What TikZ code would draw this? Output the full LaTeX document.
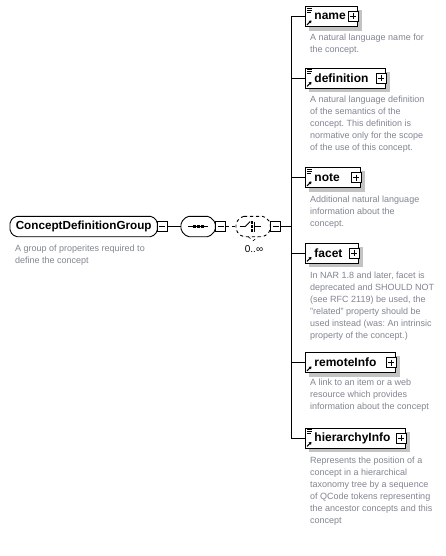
\documentclass[tikz,border=0pt]{standalone}
\usepackage{fontspec}
\setmainfont{Liberation Sans}
\usetikzlibrary{calc,arrows.meta}
\pgfdeclarelayer{paper}
\pgfdeclarelayer{bg}
\pgfsetlayers{paper,bg,main}
\definecolor{desc}{RGB}{128,134,145}
\definecolor{shad}{RGB}{195,195,195}
\frenchspacing
\newcommand{\xsdicons}[2]{%
  \draw[line width=1.1pt,-{Triangle[length=2.4pt,width=3.2pt]}] ($(#1.south west)+(2,-2)$) -- ($(#1.south west)+(6.5,-6.5)$);
  \ifnum#2=1
    \draw[line width=0.6pt] ($(#1.north west)+(2,2)$) -- ++(5,0) ($(#1.north west)+(2,4)$) -- ++(5,0) ($(#1.north west)+(2,6)$) -- ++(4,0);
  \fi
  \begin{pgfonlayer}{bg}
    \fill[shad] ($(#1.north west)+(4,4)$) rectangle ($(#1.south east)+(4,4)$);
  \end{pgfonlayer}}
\newcommand{\octpath}[2]{($(#1.north west)+(#2,0)$) -- ($(#1.north east)+(-#2,0)$) -- ($(#1.north east)+(0,#2)$) -- ($(#1.south east)+(0,-#2)$) -- ($(#1.south east)+(-#2,0)$) -- ($(#1.south west)+(#2,0)$) -- ($(#1.south west)+(0,-#2)$) -- ($(#1.north west)+(0,#2)$) -- cycle}
\newcommand{\octshape}[3]{%
  \begin{pgfonlayer}{bg}
    \fill[shad, rounded corners=2pt, shift={(4,4)}] \octpath{#1}{#2};
    \draw[fill=white, line width=0.9pt, rounded corners=2pt, #3] \octpath{#1}{#2};
  \end{pgfonlayer}}
\begin{document}
\begin{tikzpicture}[x=1pt,y=-1pt,
  elem/.style={draw, fill=white, line width=0.9pt, anchor=west, minimum height=20pt,
    inner xsep=0pt, inner ysep=0pt, align=left,
    font=\bfseries\fontsize{12}{13}\selectfont},
  pbox/.style={draw, fill=white, line width=0.6pt, minimum size=10pt, inner sep=0pt,
    path picture={\draw[line width=0.6pt] ([xshift=2pt]path picture bounding box.west) -- ([xshift=-2pt]path picture bounding box.east);
                  \draw[line width=0.6pt] ([yshift=-2pt]path picture bounding box.north) -- ([yshift=2pt]path picture bounding box.south);}},
  mbox/.style={draw, fill=white, line width=0.6pt, minimum size=10pt, inner sep=0pt,
    path picture={\draw[line width=0.6pt] ([xshift=2pt]path picture bounding box.west) -- ([xshift=-2pt]path picture bounding box.east);}},
  dtext/.style={anchor=north west, align=left, inner sep=0pt, text=desc,
    font=\frenchspacing\fontsize{9}{12}\selectfont, execute at begin node=\strut},
  comp/.style={anchor=west, minimum height=20pt, inner sep=0pt},
  conn/.style={line width=0.9pt}
]
\begin{pgfonlayer}{paper}
\useasboundingbox[fill=white] (0,0) rectangle (445,556);
\end{pgfonlayer}

% group
\node[comp, minimum width=147pt, font=\bfseries\fontsize{11.7}{13}\selectfont] (cdg) at (10,226.5) {ConceptDefinitionGroup};
\octshape{cdg}{5}{}
\node[mbox] (cdgm) at (162,226.5) {};
\node[dtext] (cdgd) at (15,244.6) {A group of properites required to\\define the concept};

% sequence
\node[comp, minimum width=34pt] (seq) at (181,226.5) {};
\octshape{seq}{6}{}
\node[mbox] (seqm) at (220.5,226.5) {};
\draw[line width=0.9pt] ($(seq.center)+(-10,0)$) -- ($(seq.center)+(10,0)$);
\foreach \dx in {-4,0,4}{\fill ($(seq.center)+(\dx-1.3,-1.3)$) rectangle ++(2.6,2.6);}

% choice
\node[comp, minimum width=34pt] (cho) at (236,226.5) {};
\octshape{cho}{6}{dashed}
\node[mbox] (chom) at (275.5,226.5) {};
\draw[line width=0.8pt] ($(cho.center)+(-13,0)$) -- ($(cho.center)+(-8,0)$) -- ($(cho.center)+(-3,-5)$);
\draw[line width=0.8pt] ($(cho.center)+(1,-5)$) -- ($(cho.center)+(1,5)$);
\draw[line width=0.8pt] ($(cho.center)+(1,0)$) -- ($(cho.center)+(8,0)$);
\foreach \dy in {-4,0,4}{\fill ($(cho.center)+(-2.6,\dy-1.1)$) rectangle ++(2.2,2.2);}
\draw[line width=0.6pt, dashed] ($(cho.south)+(-5,0)$) -- ($(cho.south)+(0,4)$) -- ($(cho.south)+(5,0)$);
\node[font=\fontsize{10}{11}\selectfont, inner sep=0pt] (mult) at (254,249) {0..∞};

\draw[conn] (cdgm.east) -- (seq.west);
\draw[conn, dashed] (seqm.east) -- (cho.west);
\coordinate (bus) at (291,226.5);
\draw[conn] (chom.east) -- (bus);

% elements
\node[elem, text width=52pt] (name) at (305,16.5) {\hspace*{9pt}name};
\node[pbox] (namep) at ($(name.east)+(-5,0)$) {};
\xsdicons{name}{1}
\node[dtext] (named) at (310,33.6) {A natural language name for\\the concept.};

\node[elem, text width=80pt] (defn) at (305,78) {\hspace*{9pt}definition};
\node[pbox] (defnp) at ($(defn.east)+(-5,0)$) {};
\xsdicons{defn}{1}
\node[dtext] (defnd) at (310,95.6) {A natural language definition\\of the semantics of the\\concept. This definition is\\normative only for the scope\\of the use of this concept.};

\node[elem, text width=55pt] (note) at (305,177.5) {\hspace*{9pt}note};
\node[pbox] (notep) at ($(note.east)+(-5,0)$) {};
\xsdicons{note}{1}
\node[dtext] (noted) at (310,195.6) {Additional natural language\\information about the\\concept.};

\node[elem, text width=53pt] (facet) at (305,253) {\hspace*{9pt}facet};
\node[pbox] (facetp) at ($(facet.east)+(-5,0)$) {};
\xsdicons{facet}{0}
\node[dtext] (facetd) at (310,271.6) {In NAR 1.8 and later, facet is\\deprecated and SHOULD NOT\\(see RFC 2119) be used, the\\"related" property should be\\used instead (was: An intrinsic\\property of the concept.)};

\node[elem, text width=90pt] (remote) at (305,362.5) {\hspace*{9pt}remoteInfo};
\node[pbox] (remotep) at ($(remote.east)+(-5,0)$) {};
\xsdicons{remote}{0}
\node[dtext] (remoted) at (310,378.6) {A link to an item or a web\\resource which provides\\information about the concept};

\node[elem, text width=100pt] (hier) at (305,438) {\hspace*{9pt}hierarchyInfo};
\node[pbox] (hierp) at ($(hier.east)+(-5,0)$) {};
\xsdicons{hier}{1}
\node[dtext] (hierd) at (310,456.6) {Represents the position of a\\concept in a hierarchical\\taxonomy tree by a sequence\\of QCode tokens representing\\the ancestor concepts and this\\concept};

% bus connectors
\draw[conn] (bus |- name.west) -- (bus |- hier.west);
\foreach \n in {name,defn,note,facet,remote,hier}{\draw[conn] (bus |- \n.west) -- (\n.west);}
\end{tikzpicture}
\end{document}
